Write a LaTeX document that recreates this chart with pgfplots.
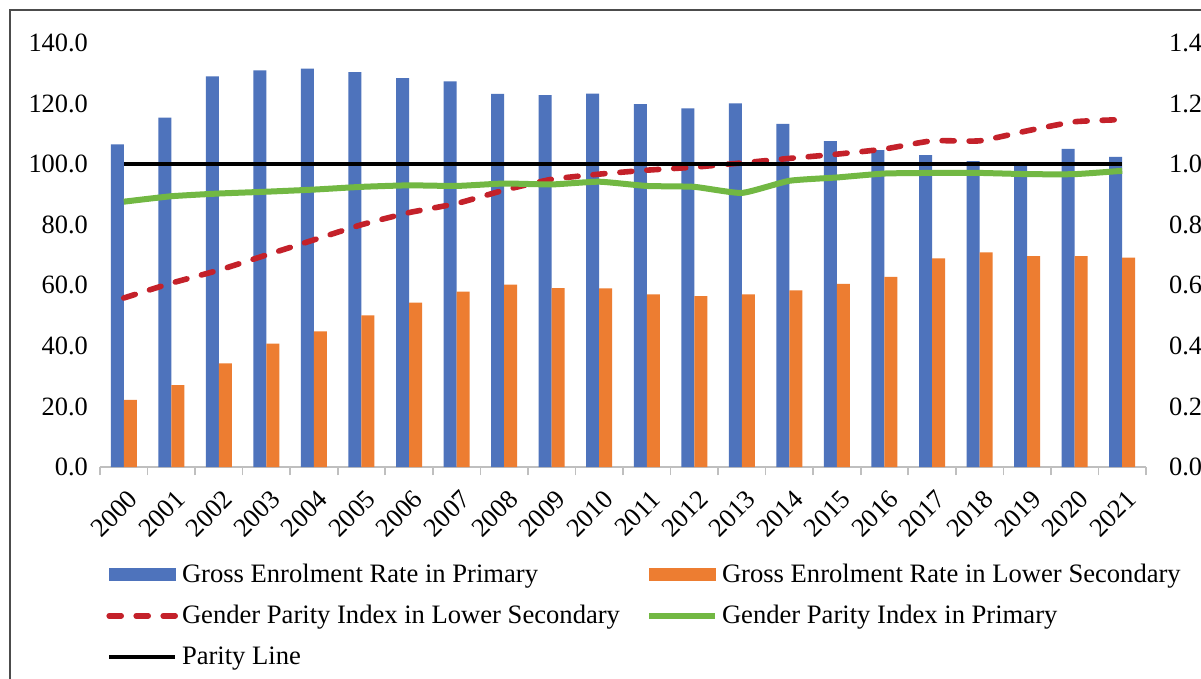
\documentclass[border=0pt]{standalone}
\usepackage{fontspec}
\setmainfont{Liberation Serif}
\usepackage{pgfplots}
\pgfplotsset{compat=1.18}
\definecolor{cblue}{HTML}{4E73BC}
\definecolor{corange}{HTML}{ED7D31}
\definecolor{cred}{HTML}{C4212A}
\definecolor{cgreen}{HTML}{72B843}
\pgfplotstableread{
x blue orange red green
0  106.5 22.2 0.558 0.876
1  115.4 27.0 0.607 0.894
2  129.0 34.2 0.650 0.903
3  131.0 40.7 0.700 0.909
4  131.5 44.8 0.750 0.916
5  130.4 50.1 0.800 0.925
6  128.4 54.3 0.840 0.930
7  127.3 57.9 0.870 0.928
8  123.2 60.2 0.914 0.936
9  122.8 59.1 0.950 0.933
10 123.3 59.0 0.967 0.942
11 119.8 57.0 0.980 0.928
12 118.4 56.4 0.990 0.925
13 120.1 57.0 1.004 0.905
14 113.3 58.3 1.019 0.945
15 107.6 60.5 1.033 0.956
16 104.6 62.8 1.050 0.969
17 103.0 68.9 1.077 0.971
18 101.0 70.9 1.077 0.971
19 99.5  69.6 1.110 0.967
20 105.0 69.6 1.140 0.967
21 102.4 69.1 1.147 0.978
}\datatable
\begin{document}
\begin{tikzpicture}
\useasboundingbox (0,0) rectangle (600.5pt,-339.5pt);
\fill[white] (0,0) rectangle (600.5pt,-339.5pt);
\draw[black!70, line width=0.6pt] (5pt,-339.5pt) -- (5pt,-5pt) -- (600.5pt,-5pt);
\pgfplotsset{myaxis/.style={at={(50pt,-233.5pt)}, anchor=south west, scale only axis,
  width=523pt, height=212pt, xmin=-0.5, xmax=21.5,
  ticklabel style={font=\fontsize{13.2}{15}\selectfont},
  /pgf/number format/assume math mode=true,
  /pgf/number format/fixed, /pgf/number format/fixed zerofill, /pgf/number format/precision=1}}
\begin{axis}[myaxis, ymin=0, ymax=140, ytick={0,20,...,140},
  axis x line*=bottom, axis y line*=left, y axis line style={draw=none},
  x axis line style={draw=black!25, line width=0.8pt},
  xtick={0,...,21},
  xticklabels={2000,2001,2002,2003,2004,2005,2006,2007,2008,2009,2010,2011,2012,2013,2014,2015,2016,2017,2018,2019,2020,2021},
  major tick length=0pt, minor xtick={-0.5,0.5,...,21.5}, minor tick length=4pt,
  minor x tick style={black!25, line width=0.8pt}, tick align=outside,
  xticklabel style={rotate=45, anchor=north east, inner sep=1pt, xshift=-5.5pt, yshift=-7.5pt},
  yticklabel style={xshift=-2.5pt},
  ybar=0pt, bar width=6.5pt]
\addplot[fill=cblue, draw=none] table[x=x, y=blue] {\datatable};
\addplot[fill=corange, draw=none] table[x=x, y=orange] {\datatable};
\end{axis}
\begin{axis}[myaxis, ymin=0, ymax=1.4, ytick={0,0.2,...,1.4},
  axis x line=none, axis y line*=right, y axis line style={draw=none},
  major tick length=0pt, yticklabel style={xshift=8pt},
  legend image code/.code={\draw[#1] (0pt,0pt) -- (33pt,0pt);},
  legend style={at={(0.0,-0.208)}, anchor=north west, draw=none, fill=none,
    font=\fontsize{13.3}{15}\selectfont, legend columns=2, row sep=6pt,
    /tikz/every even column/.append style={column sep=11pt}},
  legend cell align=left]
\addlegendimage{legend image code/.code={\fill[cblue] (0pt,-3pt) rectangle (33pt,3pt);}}
\addlegendentry{Gross Enrolment Rate in Primary}
\addlegendimage{legend image code/.code={\fill[corange] (0pt,-3pt) rectangle (33pt,3pt);}}
\addlegendentry{Gross Enrolment Rate in Lower Secondary}
\addplot[cred, line width=2.8pt, line cap=round, dash pattern=on 6pt off 7.5pt, smooth, tension=0.3] table[x=x, y=red] {\datatable};
\addlegendentry{Gender Parity Index in Lower Secondary}
\addplot[cgreen, line width=3pt, line join=round, smooth, tension=0.3] table[x=x, y=green] {\datatable};
\addlegendentry{Gender Parity Index in Primary}
\addplot[black, line width=2pt] coordinates {(0,1) (21,1)};
\addlegendentry{Parity Line}
\end{axis}
\end{tikzpicture}
\end{document}
